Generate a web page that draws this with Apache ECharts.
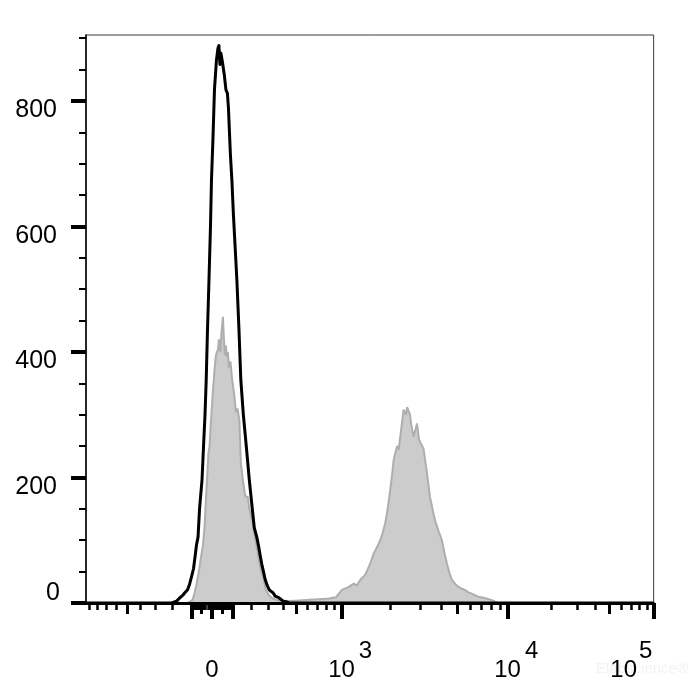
<!DOCTYPE html>
<html>
<head>
<meta charset="utf-8">
<script src="https://cdn.jsdelivr.net/npm/echarts@6/dist/echarts.min.js"></script>
<style>html,body{margin:0;padding:0;background:#fff}#c{width:700px;height:700px}</style>
</head>
<body>
<div id="c"></div>
<script>
// ---- Data (x in display channels: 0 = zero fluorescence, biexponential display scale) ----
const blackChannels = [-126.5,-40.5,-35.5,-32.5,-30.5,-29.5,-27.5,-26,-24.5,-22.5,-20.5,-18.5,-16.5,-15.5,-14,-12.5,-10,-8.5,-7,-5.8,-4.5,-3,-1.5,-0.5,1,2.5,4.5,6,7,8,9,10.5,12.5,14,15.5,16.5,18.5,20,21.5,23.5,25,27,29,31.5,34.5,37.5,40.5,42.5,45,47,48.5,50,52,53.5,55.5,57.5,59.5,61.5,63.5,65.5,67.5,69.5,71.5,74.5,77.5,443.7];
const blackCounts   = [0,0,3,8,6,12,16,14,21,30,42,55,80,93,105,150,196,249,300,355,435,515,600,674,740,818,865,884,888,858,876,862,840,818,812,790,715,674,620,560,515,440,355,300,249,196,150,120,105,89,75,62,48,37,28,21,18,16,11,13,8,9,3,2,0,0];

const grayChannels = [-24.5,-22.5,-19.5,-17.5,-15.5,-13,-11.5,-9,-7.5,-5,-3.5,-2.5,-1,1,2.5,4,6,7,8.5,9.5,11,12,13,14,15,16,17,18.5,20,21,22.5,24,25.5,27.5,29,31.5,33.5,36,37.5,41,42.5,45,47,49,51.5,54,57.5,60.5,64.5,67.5,77.5,87.5,97.5,107.5,117.5,124.5,130.5,136.5,142.5,145.5,149,154,159,162.5,165.5,169,171.5,174,176.5,179,181,182.5,184,186,187.5,190,192.5,195,196,197.5,199,200,202.5,206,208,210.5,212.5,216,219,221.5,224,227.5,231,233.5,236,238.5,241,244.5,247.5,250.5,254,257.5,261,264.5,267.5,274,280.5,287.5];
const grayCounts   = [0,2,5,16,30,52,68,93,120,197,240,249,290,339,370,395,404,420,400,430,456,420,395,410,392,400,375,385,360,357,330,304,310,292,223,190,170,169,150,127,110,90,70,53,40,21,12,8,5,4,3,4,5,6,7,9,21,25,31,28,37,45,63,79,88,100,112,127,150,180,205,228,238,250,244,276,308,300,312,306,300,286,265,286,260,252,246,207,169,150,132,115,100,80,63,48,37,30,26,23,21,17,15,12,10,8,5,0];

// ---- Axis ticks / labels ----
const yMax = 905;
const yMajorTicks = [0,200,400,600,800];
const yMinorTicks = [50,100,150,250,300,350,450,500,550,650,700,750,850,900];
const yLabels = [200,400,600,800];
const yZeroLabel = [0];

const xMinValue = -950;
const xMaxValue = 100000;
const xMinorTicks = [-900,-800,-700,-600,-400,-300,-200,-90,-80,-70,-60,-40,-30,-20,-10,10,20,30,40,60,70,80,90,200,300,400,600,700,800,900,2000,3000,4000,6000,7000,8000,9000,20000,30000,40000,60000,70000,80000,90000];
const xMediumTicks = [-500,-50,50,500,5000,50000];
const xMajorTicks = [-100,0,100,1000,10000,100000];
const xLabelValues = [0,1000,10000,100000];
const xLabelBase = ['0','10','10','10'];
const xExpValues = [1000,10000,100000];
const xLabelExp = ['3','4','5'];

// ---- biexponential display transform ----
const B = 73.4, C = 350, DECADE = 146.7;
function toChannel(v) {
  if (v > 1e4) return B * Math.asinh(1e4 / C) + DECADE * Math.log10(v / 1e4);
  return B * Math.asinh(v / C);
}
function indexOfChannel(values, ch) {
  for (let i = 0; i < values.length; i++) {
    if (Math.abs(toChannel(values[i]) - ch) < 0.01) return i;
  }
  return -1;
}

const chart = echarts.init(document.getElementById('c'), null, {renderer: 'canvas'});
const FONT = 'Liberation Sans, Arial, sans-serif';

const xBase = {
  type: 'value', gridIndex: 0, position: 'bottom',
  min: toChannel(xMinValue), max: toChannel(xMaxValue),
  splitLine: {show: false}, z: 5
};

const option = {
  animation: false,
  backgroundColor: '#ffffff',
  grid: {left: 86, right: 44, top: 35, bottom: 97, show: true, borderColor: '#3a3a3a', borderWidth: 1, backgroundColor: 'transparent'},
  xAxis: [
    Object.assign({}, xBase, {
      axisLine: {show: true, onZero: false, lineStyle: {color: '#000', width: 3}},
      axisTick: {show: true, length: 7, lineStyle: {color: '#000', width: 2.5}, customValues: xMinorTicks.map(toChannel)},
      axisLabel: {
        show: true, margin: 57, color: '#000', fontFamily: FONT, fontSize: 24, lineHeight: 20, verticalAlign: 'top',
        customValues: xLabelValues.map(toChannel),
        formatter: function (val) {
          const i = indexOfChannel(xLabelValues, val);
          if (i < 0) return '';
          if (i === xLabelValues.length - 1) return '{last|' + xLabelBase[i] + '}';
          return '{n|' + xLabelBase[i] + '}';
        },
        rich: {
          n: {fontSize: 24, fontFamily: FONT, color: '#000', lineHeight: 20},
          last: {fontSize: 24, fontFamily: FONT, color: '#000', lineHeight: 20, padding: [0, 60, 0, 0]}
        }
      }
    }),
    Object.assign({}, xBase, {
      axisLine: {show: false, onZero: false},
      axisTick: {show: true, length: 11, lineStyle: {color: '#000', width: 3}, customValues: xMediumTicks.map(toChannel)},
      axisLabel: {
        show: true, margin: 38, color: '#000', fontFamily: FONT, fontSize: 24, lineHeight: 20, verticalAlign: 'top',
        customValues: xExpValues.map(toChannel),
        formatter: function (val) {
          const i = indexOfChannel(xExpValues, val);
          if (i < 0) return '';
          if (i === xExpValues.length - 1) return '{el|' + xLabelExp[i] + '}';
          return '{e|' + xLabelExp[i] + '}';
        },
        rich: {
          e: {fontSize: 24, fontFamily: FONT, color: '#000', lineHeight: 20, padding: [0, 0, 0, 48]},
          el: {fontSize: 24, fontFamily: FONT, color: '#000', lineHeight: 20, padding: [0, 16, 0, 0]}
        }
      }
    }),
    Object.assign({}, xBase, {
      axisLine: {show: false, onZero: false},
      axisTick: {show: true, length: 16, lineStyle: {color: '#000', width: 4}, customValues: xMajorTicks.map(toChannel)},
      axisLabel: {show: false}
    })
  ],
  yAxis: [
    {
      type: 'value', position: 'left', min: 0, max: yMax, splitLine: {show: false}, z: 5,
      axisLine: {show: true, onZero: false, lineStyle: {color: '#000', width: 1.5}},
      axisTick: {show: true, length: 15, lineStyle: {color: '#000', width: 4}, customValues: yMajorTicks},
      axisLabel: {show: true, customValues: yLabels, margin: 29, color: '#000', fontFamily: FONT, fontSize: 25, verticalAlign: 'top', lineHeight: 19}
    },
    {
      type: 'value', position: 'left', min: 0, max: yMax, splitLine: {show: false}, z: 5,
      axisLine: {show: false, onZero: false},
      axisTick: {show: true, length: 7, lineStyle: {color: '#000', width: 2}, customValues: yMinorTicks},
      axisLabel: {show: true, customValues: yZeroLabel, margin: 26, color: '#000', fontFamily: FONT, fontSize: 25, verticalAlign: 'bottom', lineHeight: 20}
    }
  ],
  graphic: [
    {type: 'text', right: 12, bottom: 24, style: {text: 'Elabscience\u00AE', fill: '#f2f2f2', font: '15px ' + FONT}}
  ],
  series: [
    {
      type: 'line', xAxisIndex: 0, yAxisIndex: 0, symbol: 'none', z: 2,
      data: grayChannels.map((c, i) => [c, grayCounts[i]]),
      lineStyle: {color: '#aeaeae', width: 2},
      areaStyle: {color: '#cccccc', opacity: 1},
      silent: true
    },
    {
      type: 'line', xAxisIndex: 0, yAxisIndex: 0, symbol: 'none', z: 3,
      data: blackChannels.map((c, i) => [c, blackCounts[i]]),
      lineStyle: {color: '#000', width: 3, join: 'round'},
      silent: true
    }
  ]
};
chart.setOption(option);
</script>
</body>
</html>
